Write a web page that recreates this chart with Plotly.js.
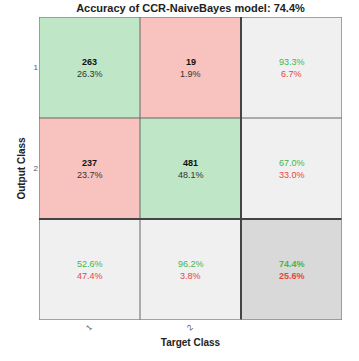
<!DOCTYPE html>
<html>
<head>
<meta charset="utf-8">
<script src="https://cdn.plot.ly/plotly-3.0.1.min.js"></script>
<style>
  html, body { margin: 0; padding: 0; background: #fff; }
  #plot { width: 359px; height: 361px; }
</style>
</head>
<body>
<div id="plot"></div>
<script>
// valores
const classes = ['1', '2'];
const counts = [[263, 19], [237, 481]];        // fila = salida, columna = objetivo
const cellPct = [[26.3, 1.9], [23.7, 48.1]];
const rowCorrect = [93.3, 67.0];                 // precisión por clase de salida
const rowWrong = [6.7, 33.0];
const colCorrect = [52.6, 96.2];                 // recall por clase objetivo
const colWrong = [47.4, 3.8];
const accuracy = [74.4, 25.6];
const modelName = 'CCR-NaiveBayes';

const GREEN_BG = '#bfe6c6', RED_BG = '#f8c2be', GRAY_BG = '#f0f0f0', DARK_BG = '#d9d9d9';
const GREEN_TX = '#3fb650', RED_TX = '#e5463d';
const FONT = 'Liberation Sans, Arial, sans-serif';

const n = classes.length;
const N = n + 1;

// z: 0 gris, 1 verde, 2 rojo, 3 esquina
const z = [];
for (let r = 0; r < N; r++) {
  const row = [];
  for (let c = 0; c < N; c++) {
    if (r === n && c === n) row.push(3);
    else if (r === n || c === n) row.push(0);
    else row.push(r === c ? 1 : 2);
  }
  z.push(row);
}
const idx = Array.from({ length: N }, (_, i) => i);

const heat = {
  type: 'heatmap', x: idx, y: idx, z,
  zmin: 0, zmax: 3, showscale: false, hoverinfo: 'skip',
  colorscale: [
    [0, GRAY_BG], [0.25, GRAY_BG],
    [0.25, GREEN_BG], [0.5, GREEN_BG],
    [0.5, RED_BG], [0.75, RED_BG],
    [0.75, DARK_BG], [1, DARK_BG]
  ]
};

const f = (v) => v.toFixed(1) + '%';
const annotations = [];
const dy = 6;
for (let r = 0; r < n; r++) {
  for (let c = 0; c < n; c++) {
    annotations.push({ x: c, y: r, text: '<b>' + counts[r][c] + '</b>', showarrow: false, yshift: dy,
      font: { family: FONT, size: 9, color: '#111' } });
    annotations.push({ x: c, y: r, text: f(cellPct[r][c]), showarrow: false, yshift: -dy,
      font: { family: FONT, size: 9, color: '#333' } });
  }
  annotations.push({ x: n, y: r, text: f(rowCorrect[r]), showarrow: false, yshift: dy,
    font: { family: FONT, size: 9, color: GREEN_TX } });
  annotations.push({ x: n, y: r, text: f(rowWrong[r]), showarrow: false, yshift: -dy,
    font: { family: FONT, size: 9, color: RED_TX } });
}
for (let c = 0; c < n; c++) {
  annotations.push({ x: c, y: n, text: f(colCorrect[c]), showarrow: false, yshift: dy,
    font: { family: FONT, size: 9, color: GREEN_TX } });
  annotations.push({ x: c, y: n, text: f(colWrong[c]), showarrow: false, yshift: -dy,
    font: { family: FONT, size: 9, color: RED_TX } });
}
annotations.push({ x: n, y: n, text: '<b>' + f(accuracy[0]) + '</b>', showarrow: false, yshift: dy,
  font: { family: FONT, size: 9, color: GREEN_TX } });
annotations.push({ x: n, y: n, text: '<b>' + f(accuracy[1]) + '</b>', showarrow: false, yshift: -dy,
  font: { family: FONT, size: 9, color: RED_TX } });

// líneas de la rejilla
const shapes = [];
const lo = -0.5, hi = N - 0.5;
for (let k = 0; k <= N; k++) {
  const p = k - 0.5;
  const thick = k === n;
  const outer = k === 0 || k === N;
  const line = thick ? { color: '#444', width: 2 } : outer ? { color: '#888', width: 1.5 } : { color: '#666', width: 1 };
  shapes.push({ type: 'line', xref: 'x', yref: 'y', x0: p, x1: p, y0: lo, y1: hi, line });
  shapes.push({ type: 'line', xref: 'x', yref: 'y', x0: lo, x1: hi, y0: p, y1: p, line });
}

const layout = {
  width: 359, height: 361,
  margin: { l: 39, r: 17, t: 17, b: 41 },
  paper_bgcolor: '#fff', plot_bgcolor: '#fff',
  font: { family: FONT, color: '#333' },
  title: {
    text: '<b>Accuracy of ' + modelName + ' model: ' + f(accuracy[0]) + '</b>',
    x: 0.5, xref: 'paper', y: 0.978, yref: 'container', yanchor: 'middle',
    font: { family: FONT, size: 11, color: '#222' }
  },
  xaxis: {
    range: [lo, hi], tickvals: idx.slice(0, n), ticktext: classes, tickangle: -45,
    showgrid: false, zeroline: false, ticks: '', fixedrange: true,
    tickfont: { family: FONT, size: 8, color: '#555' },
    title: { text: '<b>Target Class</b>', standoff: 7, font: { family: FONT, size: 10, color: '#222' } }
  },
  yaxis: {
    range: [hi, lo], tickvals: idx.slice(0, n), ticktext: classes,
    showgrid: false, zeroline: false, ticks: '', fixedrange: true,
    tickfont: { family: FONT, size: 8, color: '#555' },
    title: { text: '<b>Output Class</b>', standoff: 6, font: { family: FONT, size: 10, color: '#222' } }
  },
  annotations, shapes
};

Plotly.newPlot('plot', [heat], layout, { displayModeBar: false, staticPlot: true });
</script>
</body>
</html>
